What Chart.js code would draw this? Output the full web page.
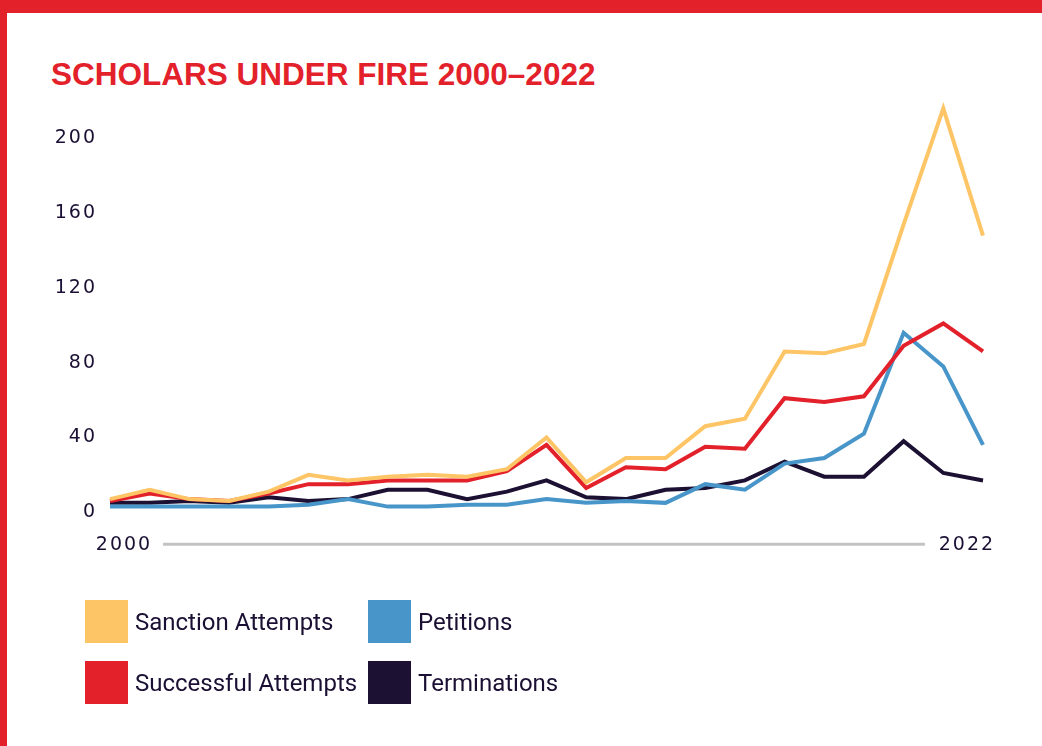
<!DOCTYPE html>
<html><head><meta charset="utf-8">
<script src="https://cdn.jsdelivr.net/npm/chart.js@4.4.1/dist/chart.umd.min.js"></script>
<style>
html,body{margin:0;padding:0;background:#fff;}
#wrap{position:relative;width:1042px;height:746px;overflow:hidden;background:#fff;}
#topbar{position:absolute;left:0;top:0;width:1042px;height:13px;background:#e3212b;}
#leftbar{position:absolute;left:0;top:0;width:7px;height:746px;background:#e3212b;}
#title{position:absolute;left:51px;top:58px;font-family:"Liberation Sans",Arial,sans-serif;font-weight:bold;font-size:31.5px;line-height:32px;color:#e3212b;white-space:nowrap;}
#chart{position:absolute;left:0;top:0;}
.item{position:absolute;display:flex;align-items:center;height:43px;}
.box{width:43px;height:43px;margin-right:7px;flex:none;}
.lbl{font-family:Roboto,"Noto Sans",sans-serif;font-size:24px;color:#1b1033;white-space:nowrap;}
</style>
</head>
<body>
<div id="wrap">
  <div id="topbar"></div>
  <div id="leftbar"></div>
  <div id="title">SCHOLARS UNDER FIRE 2000–2022</div>
  <canvas id="chart" width="1042" height="746"></canvas>
  <div id="legend"></div>
</div>
<script>
const years = ['2000','2001','2002','2003','2004','2005','2006','2007','2008','2009','2010','2011','2012','2013','2014','2015','2016','2017','2018','2019','2020','2021','2022'];
const sanctionAttempts   = [7, 12, 7, 6, 11, 20, 17, 19, 20, 19, 23, 40, 16, 29, 29, 46, 50, 86, 85, 90, 154, 216, 148];
const successfulAttempts = [6, 10, 7, 6, 10, 15, 15, 17, 17, 17, 22, 36, 13, 24, 23, 35, 34, 61, 59, 62, 89, 101, 86];
const petitions          = [3, 3, 3, 3, 3, 4, 7, 3, 3, 4, 4, 7, 5, 6, 5, 15, 12, 26, 29, 42, 96, 78, 36];
const terminations       = [5, 5, 6, 5, 8, 6, 7, 12, 12, 7, 11, 17, 8, 7, 12, 13, 17, 27, 19, 19, 38, 21, 17];
const yTickValues = [0, 40, 80, 120, 160, 200];
const xEndYears = [2000, 2022];
const seriesNames = ['Sanction Attempts', 'Successful Attempts', 'Petitions', 'Terminations'];
const seriesColors = ['#fec566', '#e3212b', '#4896c9', '#1c1033'];

const TICK_FONT = {family: '"DejaVu Sans", sans-serif', size: 19};
const TICK_COLOR = '#1b1033';

const spacingPlugin = {
  id: 'spacing',
  beforeLayout(chart){ chart.ctx.letterSpacing = '2px'; },
  beforeDraw(chart){ chart.ctx.letterSpacing = '2px'; }
};
const axisLinePlugin = {
  id: 'axisLine',
  afterDraw(chart){
    const s = chart.scales.x2;
    const ctx = chart.ctx;
    const y = chart.chartArea.bottom + 32;
    ctx.save();
    ctx.strokeStyle = '#c3c3c3';
    ctx.lineWidth = 3;
    ctx.beginPath();
    ctx.moveTo(s.getPixelForValue(xEndYears[0]) + 39, y);
    ctx.lineTo(s.getPixelForValue(xEndYears[1]) - 42, y);
    ctx.stroke();
    ctx.restore();
  }
};

const datasetsData = [sanctionAttempts, successfulAttempts, petitions, terminations];
const chart = new Chart(document.getElementById('chart'), {
  type: 'line',
  data: {
    labels: years,
    datasets: datasetsData.map((d, i) => ({
      label: seriesNames[i],
      data: d,
      borderColor: seriesColors[i],
      backgroundColor: seriesColors[i],
      borderWidth: 4,
      pointRadius: 0,
      pointHoverRadius: 0,
      tension: 0,
      fill: false,
      borderJoinStyle: 'miter',
      borderCapStyle: 'butt'
    }))
  },
  options: {
    responsive: false,
    animation: false,
    devicePixelRatio: 1,
    layout: {padding: {left: 50, right: 59, top: 101, bottom: 169}},
    plugins: {legend: {display: false}, tooltip: {enabled: false}, title: {display: false}},
    scales: {
      x: {type: 'category', display: false},
      x2: {
        type: 'linear', position: 'bottom', min: 1999.635, max: 2022.42,
        grid: {display: false, drawTicks: false}, border: {display: false},
        afterBuildTicks: s => { s.ticks = xEndYears.map(v => ({value: v})); },
        ticks: {padding: 21, font: TICK_FONT, color: TICK_COLOR, maxRotation: 0, autoSkip: false,
                callback: v => String(v)}
      },
      y: {
        type: 'linear', min: 0, max: 220,
        grid: {display: false, drawTicks: false}, border: {display: false},
        afterBuildTicks: s => { s.ticks = yTickValues.map(v => ({value: v})); },
        afterFit: s => { s.width = 60; },
        ticks: {padding: 13, font: TICK_FONT, color: TICK_COLOR, callback: v => String(v)}
      }
    }
  },
  plugins: [spacingPlugin, axisLinePlugin]
});

// HTML legend built from the chart's datasets (2 columns x 2 rows)
const legend = document.getElementById('legend');
chart.data.datasets.forEach((ds, i) => {
  const col = Math.floor(i / 2), row = i % 2;
  const item = document.createElement('div');
  item.className = 'item';
  item.style.left = (85 + col * 283) + 'px';
  item.style.top = (600 + row * 61) + 'px';
  const box = document.createElement('div');
  box.className = 'box';
  box.style.background = ds.borderColor;
  const lbl = document.createElement('span');
  lbl.className = 'lbl';
  lbl.textContent = ds.label;
  item.appendChild(box); item.appendChild(lbl);
  legend.appendChild(item);
});
</script>
</body></html>
